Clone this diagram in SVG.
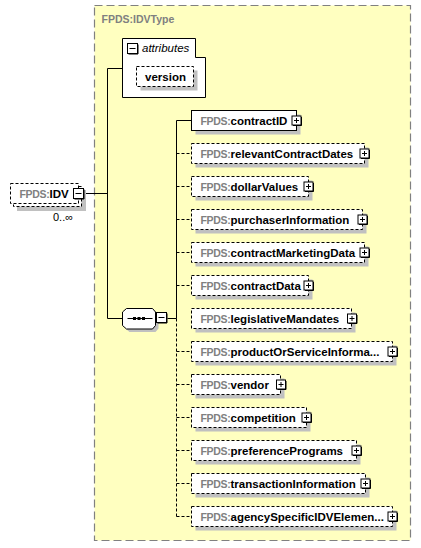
<svg xmlns="http://www.w3.org/2000/svg" width="421" height="548" viewBox="0 0 421 548">
<style>
.t{font-family:"Liberation Sans",Arial,sans-serif;font-size:11.5px}
.pf{fill:#808080;font-weight:bold;font-size:10.5px;letter-spacing:-0.3px}
.nm{fill:#000;font-weight:bold}
.box{fill:#fff;stroke:#000;stroke-width:1}
.dash{stroke-dasharray:3,2}
.sh{fill:#c0c0c0}
.ln{stroke:#000;stroke-width:1;fill:none}
.dl{stroke:#000;stroke-width:1;fill:none;stroke-dasharray:3,2}
</style>
<defs>
<g id="plus">
<rect x="0" y="0" width="9" height="9" fill="#fff" stroke="#000"/>
<path d="M1,9.5 H9.5 V1" stroke="#000" fill="none"/>
<path d="M2,4.5 H7 M4.5,2 V7" stroke="#000" fill="none"/>
</g>
<g id="minus">
<rect x="0" y="0" width="10" height="10" fill="#fff" stroke="#000"/>
<path d="M1,10.5 H10.5 V1" stroke="#000" fill="none"/>
<path d="M2,5 H8" stroke="#000" fill="none"/>
</g>
</defs>

<g id="IDVType">
<rect x="94.5" y="5.5" width="316" height="535" fill="#ffffc0" stroke="#808080" stroke-width="1.2" stroke-dasharray="8,4"/>
<text class="t" x="101.5" y="22.5" style="font-size:10.5px;font-weight:bold;fill:#808080">FPDS:IDVType</text>
</g>

<g id="connectors">
<path class="ln" d="M84.5,193.5 H107.5 M107.5,68.5 V318.5 M107.5,68.5 H122.5 M107.5,318.5 H122.5 M167.5,318.5 H176.5 M176.5,120.5 V318.5 M176.5,120.5 H191.5"/>
<path class="dl" d="M176.5,318.5 V516.5 M176.5,153.5 H191.5 M176.5,186.5 H191.5 M176.5,219.5 H191.5 M176.5,252.5 H191.5 M176.5,285.5 H191.5 M176.5,351.5 H191.5 M176.5,384.5 H191.5 M176.5,417.5 H191.5 M176.5,450.5 H191.5 M176.5,483.5 H191.5 M176.5,516.5 H191.5"/>
</g>

<g id="attributes">
<path class="box" d="M122.5,38.5 H195.5 V57.5 H205.5 V97.5 H122.5 Z"/>
<use href="#minus" transform="translate(127.5,43.5)"/>
<text class="t" x="142" y="52" style="font-style:italic">attributes</text>
</g>

<g id="version">
<rect class="sh" x="140.5" y="70.5" width="57" height="20"/>
<rect class="box dash" x="136.5" y="66.5" width="57" height="20"/>
<text class="t nm" x="165.5" y="80.5" text-anchor="middle">version</text>
</g>

<g id="IDV">
<rect class="sh" x="17" y="190" width="69" height="21"/>
<rect class="box dash" x="13.5" y="186.5" width="68" height="20"/>
<rect class="box dash" x="10.5" y="183.5" width="68" height="20"/>
<text class="t" x="19.5" y="197.5"><tspan class="pf">FPDS:</tspan><tspan class="nm">IDV</tspan></text>
<use href="#minus" transform="translate(73.5,188.5)"/>
<text class="t" x="53" y="221" style="font-size:11px">0..∞</text>
</g>

<g id="sequence">
<polygon class="sh" points="129.5,311.5 155.5,311.5 158.5,315 158.5,328.5 155.5,332 129.5,332 125.5,328.5 125.5,315"/>
<polygon class="box" points="126.5,308.5 152.5,308.5 155.5,312 155.5,325.5 152.5,329 126.5,329 122.5,325.5 122.5,312"/>
<path class="ln" d="M127.5,318.5 H152.5"/>
<rect x="133" y="317" width="3" height="3" fill="#000"/>
<rect x="137.5" y="317" width="3" height="3" fill="#000"/>
<rect x="142" y="317" width="3" height="3" fill="#000"/>
<use href="#minus" transform="translate(156.5,312.5)"/>
</g>

<g id="contractID">
<rect class="sh" x="195.5" y="114.5" width="105" height="20"/>
<rect class="box" x="191.5" y="110.5" width="105" height="20"/>
<text class="t" x="200.5" y="124.5"><tspan class="pf">FPDS:</tspan><tspan class="nm">contractID</tspan></text>
<use href="#plus" transform="translate(292,116)"/>
</g>

<g id="relevantContractDates">
<rect class="sh" x="195.5" y="147.5" width="173" height="20"/>
<rect class="box dash" x="191.5" y="143.5" width="173" height="20"/>
<text class="t" x="200.5" y="157.5"><tspan class="pf">FPDS:</tspan><tspan class="nm">relevantContractDates</tspan></text>
<use href="#plus" transform="translate(360,149)"/>
</g>

<g id="dollarValues">
<rect class="sh" x="195.5" y="180.5" width="117" height="20"/>
<rect class="box dash" x="191.5" y="176.5" width="117" height="20"/>
<text class="t" x="200.5" y="190.5"><tspan class="pf">FPDS:</tspan><tspan class="nm">dollarValues</tspan></text>
<use href="#plus" transform="translate(304,182)"/>
</g>

<g id="purchaserInformation">
<rect class="sh" x="195.5" y="213.5" width="171" height="20"/>
<rect class="box dash" x="191.5" y="209.5" width="171" height="20"/>
<text class="t" x="200.5" y="223.5"><tspan class="pf">FPDS:</tspan><tspan class="nm">purchaserInformation</tspan></text>
<use href="#plus" transform="translate(358,215)"/>
</g>

<g id="contractMarketingData">
<rect class="sh" x="195.5" y="246.5" width="173" height="20"/>
<rect class="box dash" x="191.5" y="242.5" width="173" height="20"/>
<text class="t" x="200.5" y="256.5"><tspan class="pf">FPDS:</tspan><tspan class="nm">contractMarketingData</tspan></text>
<use href="#plus" transform="translate(360,248)"/>
</g>

<g id="contractData">
<rect class="sh" x="195.5" y="279.5" width="117" height="20"/>
<rect class="box dash" x="191.5" y="275.5" width="117" height="20"/>
<text class="t" x="200.5" y="289.5"><tspan class="pf">FPDS:</tspan><tspan class="nm">contractData</tspan></text>
<use href="#plus" transform="translate(304,281)"/>
</g>

<g id="legislativeMandates">
<rect class="sh" x="195.5" y="312.5" width="160" height="20"/>
<rect class="box dash" x="191.5" y="308.5" width="160" height="20"/>
<text class="t" x="200.5" y="322.5"><tspan class="pf">FPDS:</tspan><tspan class="nm">legislativeMandates</tspan></text>
<use href="#plus" transform="translate(347.5,314)"/>
</g>

<g id="productOrServiceInformation">
<rect class="sh" x="195.5" y="345.5" width="201" height="20"/>
<rect class="box dash" x="191.5" y="341.5" width="201" height="20"/>
<text class="t" x="200.5" y="355.5"><tspan class="pf">FPDS:</tspan><tspan class="nm">productOrServiceInforma...</tspan></text>
<use href="#plus" transform="translate(388,347)"/>
</g>

<g id="vendor">
<rect class="sh" x="195.5" y="378.5" width="89" height="20"/>
<rect class="box dash" x="191.5" y="374.5" width="89" height="20"/>
<text class="t" x="200.5" y="388.5"><tspan class="pf">FPDS:</tspan><tspan class="nm">vendor</tspan></text>
<use href="#plus" transform="translate(276.5,380)"/>
</g>

<g id="competition">
<rect class="sh" x="195.5" y="411.5" width="115" height="20"/>
<rect class="box dash" x="191.5" y="407.5" width="115" height="20"/>
<text class="t" x="200.5" y="421.5"><tspan class="pf">FPDS:</tspan><tspan class="nm">competition</tspan></text>
<use href="#plus" transform="translate(302,413)"/>
</g>

<g id="preferencePrograms">
<rect class="sh" x="195.5" y="444.5" width="165" height="20"/>
<rect class="box dash" x="191.5" y="440.5" width="165" height="20"/>
<text class="t" x="200.5" y="454.5"><tspan class="pf">FPDS:</tspan><tspan class="nm">preferencePrograms</tspan></text>
<use href="#plus" transform="translate(352,446)"/>
</g>

<g id="transactionInformation">
<rect class="sh" x="195.5" y="477.5" width="174" height="20"/>
<rect class="box dash" x="191.5" y="473.5" width="174" height="20"/>
<text class="t" x="200.5" y="487.5"><tspan class="pf">FPDS:</tspan><tspan class="nm">transactionInformation</tspan></text>
<use href="#plus" transform="translate(361,479)"/>
</g>

<g id="agencySpecificIDVElement">
<rect class="sh" x="195.5" y="510.5" width="201" height="20"/>
<rect class="box dash" x="191.5" y="506.5" width="201" height="20"/>
<text class="t" x="200.5" y="520.5"><tspan class="pf">FPDS:</tspan><tspan class="nm">agencySpecificIDVElemen...</tspan></text>
<use href="#plus" transform="translate(388,512)"/>
</g>
</svg>
